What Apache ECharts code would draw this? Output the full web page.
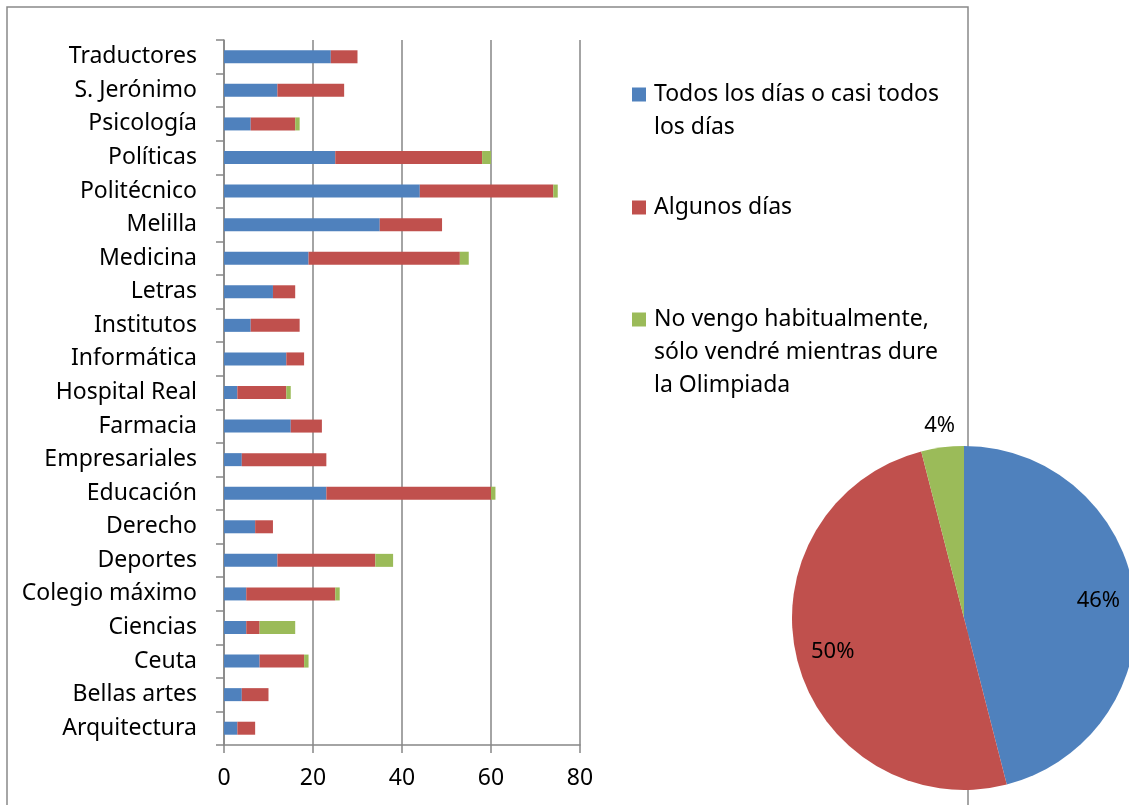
<!DOCTYPE html>
<html>
<head>
<meta charset="utf-8">
<script src="https://cdn.jsdelivr.net/npm/echarts@6/dist/echarts.min.js"></script>
<style>
html,body{margin:0;padding:0;background:#fff;}
#chart{width:1129px;height:805px;}
</style>
</head>
<body>
<div id="chart"></div>
<script>
// Categories listed bottom-to-top (as on the category axis)
const categories = ["Arquitectura", "Bellas artes", "Ceuta", "Ciencias", "Colegio máximo", "Deportes", "Derecho", "Educación", "Empresariales", "Farmacia", "Hospital Real", "Informática", "Institutos", "Letras", "Medicina", "Melilla", "Politécnico", "Políticas", "Psicología", "S. Jerónimo", "Traductores"];
const seriesNames = ["Todos los días o casi todos los días", "Algunos días", "No vengo habitualmente, sólo vendré mientras dure la Olimpiada"];
const todos = [3, 4, 8, 5, 5, 12, 7, 23, 4, 15, 3, 14, 6, 11, 19, 35, 44, 25, 6, 12, 24];
const algunos = [4, 6, 10, 3, 20, 22, 4, 37, 19, 7, 11, 4, 11, 5, 34, 14, 30, 33, 10, 15, 6];
const noVengo = [0, 0, 1, 8, 1, 4, 0, 1, 0, 0, 1, 0, 0, 0, 2, 0, 1, 2, 1, 0, 0];
const pieValues = [46, 50, 4];
const xTicks = [0, 20, 40, 60, 80];
const legendLines = [
  "\nTodos los días o casi todos\nlos días",
  "Algunos días",
  "\n\nNo vengo habitualmente,\nsólo vendré mientras dure\nla Olimpiada"
];

const colors = ["#4F81BD", "#C0504D", "#9BBB59"];
const FONT = "Noto Sans";
const chart = echarts.init(document.getElementById('chart'));

const barValues = [todos, algunos, noVengo];
const barSeries = seriesNames.map((n, i) => ({
  type: 'bar', name: n, stack: 'total', data: barValues[i],
  barWidth: 13, itemStyle: { color: colors[i] }, z: 3
}));

const pieData = seriesNames.map((n, i) => ({ name: n, value: pieValues[i], itemStyle: { color: colors[i] } }));

const legendTops = [45, 191, 237];
const legends = seriesNames.map((n, i) => ({
  data: [n], orient: 'vertical', left: 632, top: legendTops[i], padding: 0,
  icon: 'rect', itemWidth: 14, itemHeight: 14, selectedMode: false,
  formatter: () => legendLines[i],
  textStyle: { fontFamily: FONT, fontSize: 23, color: '#000', lineHeight: 33, padding: [0, 0, 0, 3] }
}));

chart.setOption({
  animation: false,
  backgroundColor: '#fff',
  graphic: [{
    type: 'rect', z: 0, silent: true,
    shape: { x: 7, y: 7, width: 961, height: 830 },
    style: { fill: 'none', stroke: '#898989', lineWidth: 1.5 }
  }],
  legend: legends,
  grid: { left: 224, top: 40, width: 356, height: 705 },
  xAxis: {
    type: 'value', min: xTicks[0], max: xTicks[xTicks.length - 1], interval: 20,
    axisLine: { show: true, lineStyle: { color: '#868686', width: 1.5 } },
    axisTick: { show: true, length: 8, lineStyle: { color: '#868686', width: 1.5 } },
    splitLine: { show: true, lineStyle: { color: '#868686', width: 1.5 } },
    axisLabel: { fontFamily: FONT, fontSize: 23, color: '#000', margin: 22 }
  },
  yAxis: {
    type: 'category', data: categories,
    axisLine: { show: true, lineStyle: { color: '#868686', width: 1.5 } },
    axisTick: { show: true, length: 8, lineStyle: { color: '#868686', width: 1.5 } },
    axisLabel: { fontFamily: FONT, fontSize: 23, color: '#000', margin: 27 }
  },
  series: barSeries.concat([
    {
      type: 'pie', name: 'pie', center: [964, 618], radius: [0, 172],
      startAngle: 90, clockwise: true, z: 5, silent: true,
      label: { show: false }, labelLine: { show: false },
      data: pieData
    },
    {
      type: 'pie', name: 'pieLabelsIn', center: [964, 618], radius: [93, 172],
      startAngle: 90, clockwise: true, z: 6, silent: true,
      itemStyle: { color: 'rgba(0,0,0,0)' },
      label: { show: true, position: 'inside', formatter: '{d}%', fontFamily: FONT, fontSize: 22, color: '#000' },
      labelLine: { show: false },
      data: pieData.map((d, i) => ({ name: d.name, value: d.value, itemStyle: { color: 'rgba(0,0,0,0)' }, label: { show: i < 2 } }))
    },
    {
      type: 'pie', name: 'pieLabelsOut', center: [964, 618], radius: [182, 200],
      startAngle: 90, clockwise: true, z: 6, silent: true,
      itemStyle: { color: 'rgba(0,0,0,0)' },
      label: { show: true, position: 'inside', formatter: '{d}%', fontFamily: FONT, fontSize: 22, color: '#000' },
      labelLine: { show: false },
      data: pieData.map((d, i) => ({ name: d.name, value: d.value, itemStyle: { color: 'rgba(0,0,0,0)' }, label: { show: i === 2 } }))
    }
  ])
});
</script>
</body>
</html>
